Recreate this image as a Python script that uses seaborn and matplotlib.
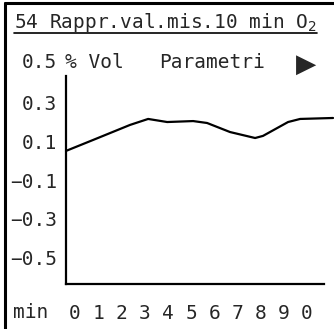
import matplotlib
matplotlib.use("Agg")
import matplotlib.pyplot as plt
import seaborn as sns
import pandas as pd
from matplotlib.lines import Line2D

minutes = [-0.39, 0.78, 2.37, 3.15, 3.97, 5.09, 5.69, 6.68, 7.76, 8.10, 9.18, 9.70, 11.12]
o2_vol = [0.051, 0.108, 0.186, 0.217, 0.201, 0.206, 0.196, 0.149, 0.118, 0.129, 0.201, 0.217, 0.222]
y_ticks = [-0.5, -0.3, -0.1, 0.1, 0.3]
y_tick_labels = ["−0.5", "−0.3", "−0.1", "0.1", "0.3"]
x_ticks = list(range(11))
x_tick_labels = ["0", "1", "2", "3", "4", "5", "6", "7", "8", "9", "0"]
title = "54 Rappr.val.mis.10 min O$_2$"
scale_top = "0.5"

W, H = 334, 329
FONT = ["DejaVu Sans Mono", "DejaVu Sans"]
FS = 14

sns.set_style("white")
plt.rcParams["font.family"] = FONT


def px(x, y):
    return x / W, 1 - y / H


fig = plt.figure(figsize=(W / 100, H / 100), dpi=100)
fig.patch.set_facecolor("white")

# plot area: axis lines at x=66, y=284
ax = fig.add_axes([66 / W, 1 - 284 / H, (W - 66) / W, (284 - 76) / H])
df = pd.DataFrame({"min": minutes, "vol": o2_vol})
sns.lineplot(data=df, x="min", y="vol", ax=ax, color="black", linewidth=1.6, clip_on=False)

ax.set_xlim(-0.39, 11.16)
ax.set_ylim(-0.64, 0.44)
for s in ["top", "right"]:
    ax.spines[s].set_visible(False)
for s in ["left", "bottom"]:
    ax.spines[s].set_color("black")
    ax.spines[s].set_linewidth(1.6)
ax.spines["bottom"].set_bounds(-0.39, 10.73)

ax.set_yticks(y_ticks)
ax.set_yticklabels(y_tick_labels, fontsize=FS)
ax.set_xticks(x_ticks)
ax.set_xticklabels(x_tick_labels, fontsize=FS)
ax.tick_params(axis="y", length=0, pad=6.5)
ax.tick_params(axis="x", length=0, pad=14.5)
ax.set_xlabel("")
ax.set_ylabel("")

# header rows
fig.text(*px(14, 28), title, fontsize=FS, ha="left", va="baseline")
fig.add_artist(Line2D([14 / W, 317 / W], [1 - 33 / H] * 2, color="black", lw=1.2))
fig.text(*px(57, 68), scale_top, fontsize=FS, ha="right", va="baseline")
fig.text(*px(65, 68), "% Vol", fontsize=FS, ha="left", va="baseline")
fig.text(*px(212, 68), "Parametri", fontsize=FS, ha="center", va="baseline")
fig.text(*px(306, 65), "▶", fontsize=FS + 5, ha="center", va="center", family=["DejaVu Sans"])
fig.text(*px(13, 318), "min", fontsize=FS, ha="left", va="baseline")

# display frame
fig.add_artist(Line2D([5 / W, 5 / W], [0, 1 - 3 / H], color="black", lw=2.2))
fig.add_artist(Line2D([5 / W, 1], [1 - 3 / H] * 2, color="black", lw=2.2))

fig.savefig("out.png", dpi=100)
